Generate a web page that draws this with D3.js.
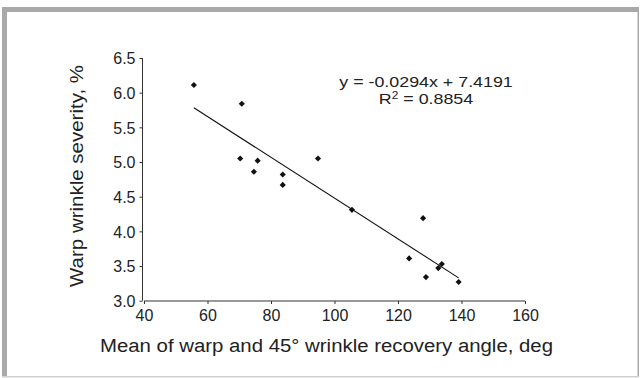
<!DOCTYPE html>
<html lang="en">
<head>
    <meta charset="UTF-8">
    <title>Warp wrinkle severity</title>
    <script src="https://d3js.org/d3.v7.min.js"></script>
    <style>
        body { margin: 0; background: #fff; }
        svg text { font-family: "Liberation Sans", Arial, sans-serif; fill: #222; }
    </style>
</head>
<body>
    <div id="chart"></div>
    <script>
        const width = 641;
        const height = 378;

        // data
        const recoveryAngle = [55.7, 70.8, 70.3, 75.8, 74.6, 83.7, 83.7, 94.8, 105.5, 123.5, 127.9, 128.8, 132.7, 133.8, 139.1];
        const severity = [6.11, 5.84, 5.05, 5.02, 4.86, 4.82, 4.67, 5.05, 4.31, 3.61, 4.19, 3.34, 3.47, 3.53, 3.27];
        const trendSlope = -0.0294;
        const trendIntercept = 7.4191;
        const rSquared = "0.8854";
        const xTicks = [40, 60, 80, 100, 120, 140, 160];
        const yTicks = [3.0, 3.5, 4.0, 4.5, 5.0, 5.5, 6.0, 6.5];

        const points = recoveryAngle.map((a, i) => ({ x: a, y: severity[i] }));

        const x = d3.scaleLinear().domain([40, 160]).range([144, 525]);
        const y = d3.scaleLinear().domain([3, 6.5]).range([300.7, 58]);

        const svg = d3.select("#chart").append("svg")
            .attr("width", width)
            .attr("height", height);

        // frame
        svg.append("rect").attr("x", 2).attr("y", 7).attr("width", 637).attr("height", 5).attr("fill", "#a9a9ab");
        svg.append("rect").attr("x", 2).attr("y", 7).attr("width", 5).attr("height", 370).attr("fill", "#a9a9ab");
        svg.append("rect").attr("x", 637.5).attr("y", 7).attr("width", 1.5).attr("height", 370).attr("fill", "#a9a9ab");
        svg.append("rect").attr("x", 2).attr("y", 376).attr("width", 637).attr("height", 1.5).attr("fill", "#d0d0d2");

        const xAxis = d3.axisBottom(x).tickValues(xTicks).tickSize(3).tickFormat(d3.format("d"));
        const yAxis = d3.axisLeft(y).tickValues(yTicks).tickSize(3).tickFormat(d3.format(".1f"));

        const gx = svg.append("g").attr("transform", "translate(0,301)").call(xAxis);
        const gy = svg.append("g").attr("transform", "translate(142.5,0)").call(yAxis);

        [gx, gy].forEach(g => {
            g.selectAll("path, line").attr("stroke", "#333").attr("stroke-width", 1);
            g.selectAll("text").attr("font-size", 16).attr("fill", "#222");
        });
        gx.select(".domain").attr("d", `M${x(40)},0H${x(160)}`);
        gy.select(".domain").attr("d", `M0,${y(6.5)}V${y(3)}`);
        gx.selectAll("text").attr("dy", null).attr("y", 19.5);
        gy.selectAll("text").attr("x", -7).attr("dy", "0.36em");

        // trend line
        const xr = d3.extent(recoveryAngle);
        svg.append("line")
            .attr("x1", x(xr[0])).attr("y1", y(trendSlope * xr[0] + trendIntercept))
            .attr("x2", x(xr[1])).attr("y2", y(trendSlope * xr[1] + trendIntercept))
            .attr("stroke", "#111").attr("stroke-width", 1.1);

        // markers
        svg.append("g").selectAll("path").data(points).join("path")
            .attr("transform", d => `translate(${x(d.x)},${y(d.y)})`)
            .attr("d", d3.symbol().type(d3.symbolDiamond2).size(24))
            .attr("fill", "#111");

        // equation, two separate lines
        const eq = svg.append("g").attr("font-size", 15).attr("text-anchor", "middle")
            .attr("transform", "translate(426,0) scale(1.19,1)");
        eq.append("text").attr("x", 0).attr("y", 87)
            .text(`y = ${trendSlope.toFixed(4)}x + ${trendIntercept.toFixed(4)}`);
        const r2 = eq.append("text").attr("x", 0).attr("y", 104.5);
        r2.append("tspan").text("R");
        r2.append("tspan").attr("font-size", 10).attr("dy", -5.5).text("2");
        r2.append("tspan").attr("dy", 5.5).text(` = ${rSquared}`);

        // axis titles
        svg.append("text")
            .attr("x", 326.5).attr("y", 352)
            .attr("text-anchor", "middle").attr("font-size", 18)
            .attr("textLength", 453).attr("lengthAdjust", "spacingAndGlyphs")
            .text("Mean of warp and 45° wrinkle recovery angle, deg");

        svg.append("text")
            .attr("transform", "translate(83,176) rotate(-90)")
            .attr("text-anchor", "middle").attr("font-size", 18)
            .attr("textLength", 222).attr("lengthAdjust", "spacingAndGlyphs")
            .text("Warp wrinkle severity, %");
    </script>
</body>
</html>
